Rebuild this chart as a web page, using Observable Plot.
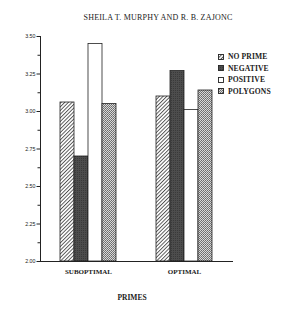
<!DOCTYPE html>
<html>
<head>
<meta charset="utf-8">
<script src="https://cdn.jsdelivr.net/npm/d3@7"></script>
<script src="https://cdn.jsdelivr.net/npm/@observablehq/plot@0.6"></script>
<style>
  html, body { margin: 0; padding: 0; background: #fff; }
  #wrap { position: relative; width: 285px; height: 309px; overflow: hidden; font-family: "Liberation Serif", "DejaVu Serif", serif; color: #222; }
  #wrap > svg.plot { position: absolute; left: 0; top: 0; }
  #title { position: absolute; top: 13px; left: 158px; transform: translateX(-50%); white-space: nowrap; font-size: 8px; letter-spacing: 0.2px; }
  #xlabel { position: absolute; top: 293px; left: 132px; transform: translateX(-50%); font-size: 7.5px; font-weight: bold; }
  #legend { position: absolute; left: 218px; top: 51px; font-family: "Liberation Serif", serif; }
  #legend div { display: flex; align-items: center; height: 11.5px; font-size: 7.6px; font-weight: bold; white-space: nowrap; letter-spacing: 0.1px; }
  #legend span { font-family: "Liberation Serif", serif; }
  #legend svg { margin-right: 4px; }
</style>
</head>
<body>
<div id="wrap">
  <div id="title">SHEILA T. MURPHY AND R. B. ZAJONC</div>
  <div id="legend"></div>
  <div id="xlabel">PRIMES</div>
</div>
<script>
const conditions = ["SUBOPTIMAL", "OPTIMAL"];
const primes = ["NO PRIME", "NEGATIVE", "POSITIVE", "POLYGONS"];
const suboptimalValues = [3.06, 2.70, 3.45, 3.05];
const optimalValues = [3.10, 3.27, 3.01, 3.14];
const yTicks = [2.00, 2.25, 2.50, 2.75, 3.00, 3.25, 3.50];
const yMinorTicks = [2.125, 2.375, 2.625, 2.875, 3.125, 3.375];

const fills = {
  "NO PRIME": "url(#pat-hatch)",
  "NEGATIVE": "url(#pat-dark)",
  "POSITIVE": "#ffffff",
  "POLYGONS": "url(#pat-dots)"
};

const data = [];
conditions.forEach((c, i) => {
  const vals = i === 0 ? suboptimalValues : optimalValues;
  primes.forEach((p, j) => data.push({condition: c, prime: p, value: vals[j]}));
});

const defs = `
<defs>
  <pattern id="pat-hatch" patternUnits="userSpaceOnUse" width="2.6" height="2.6" patternTransform="rotate(45)">
    <rect width="2.6" height="2.6" fill="#fff"/>
    <line x1="0.5" y1="0" x2="0.5" y2="2.6" stroke="#333" stroke-width="0.8"/>
  </pattern>
  <pattern id="pat-dark" patternUnits="userSpaceOnUse" width="2" height="2">
    <rect width="2" height="2" fill="#4d4d4d"/>
    <rect width="1" height="1" fill="#3a3a3a"/>
  </pattern>
  <pattern id="pat-dots" patternUnits="userSpaceOnUse" width="2" height="2">
    <rect width="2" height="2" fill="#d8d8d8"/>
    <rect width="1" height="1" fill="#6a6a6a"/>
    <rect x="1" y="1" width="1" height="1" fill="#7a7a7a"/>
  </pattern>
</defs>`;

const chart = Plot.plot({
  width: 285,
  height: 309,
  marginTop: 36,
  marginBottom: 48,
  marginLeft: 39,
  marginRight: 53,
  style: {fontFamily: "'Liberation Serif', serif", color: "#222", background: "transparent"},
  fx: {domain: conditions, padding: 0, label: null},
  x: {domain: primes, paddingInner: 0, paddingOuter: 1.33, axis: null},
  y: {domain: [2, 3.5], label: null},
  marks: [
    ...primes.map(p => Plot.barY(data.filter(d => d.prime === p), {
      fx: "condition", x: "prime", y1: 2, y2: "value",
      fill: fills[p], stroke: "#222", strokeWidth: 0.8
    })),
    Plot.frame({anchor: "left", facet: "super", stroke: "#222", strokeWidth: 1}),
    Plot.frame({anchor: "bottom", facet: "super", stroke: "#222", strokeWidth: 1}),
    Plot.axisY({ticks: yTicks, tickFormat: d3.format(".2f"), tickSize: 3.5, tickPadding: 1.5, fontSize: 5.3, label: null, fontFamily: "'Liberation Sans', sans-serif"}),
    Plot.axisY({ticks: yMinorTicks, tickFormat: () => "", tickSize: 2.5, label: null}),
    Plot.axisFx({anchor: "bottom", tickSize: 0, tickPadding: 8, fontSize: 7, fontWeight: "bold", label: null})
  ]
});
chart.classList.add("plot");
chart.insertAdjacentHTML("afterbegin", defs);
document.getElementById("wrap").prepend(chart);

const legend = document.getElementById("legend");
primes.forEach(p => {
  const row = document.createElement("div");
  row.innerHTML = `<svg width="6" height="6" viewBox="0 0 6 6"><rect x="0.5" y="0.5" width="5" height="5" fill="${fills[p]}" stroke="#222" stroke-width="0.9"/></svg><span>${p}</span>`;
  legend.appendChild(row);
});
</script>
</body>
</html>
